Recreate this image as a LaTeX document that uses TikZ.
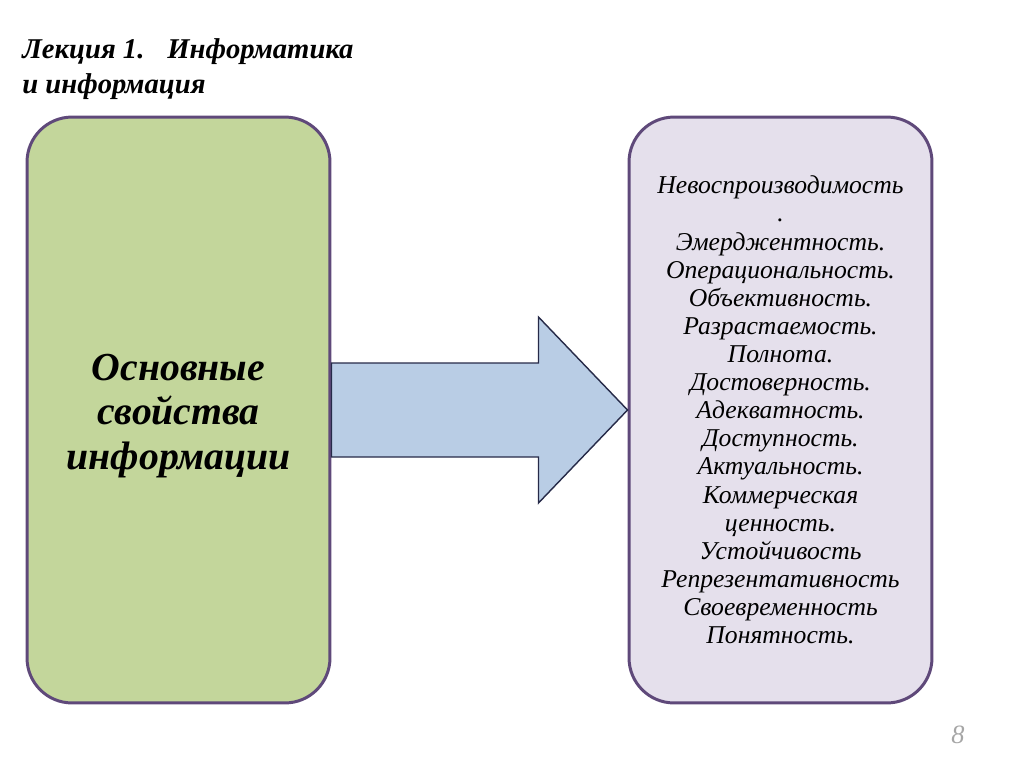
\documentclass[tikz,border=0pt]{standalone}
\usepackage{fontspec}
\setmainfont{Liberation Serif}
\usepackage{xcolor}
\usepackage{tikz}
\usetikzlibrary{calc}
\tikzset{every picture/.append style={font=\itshape}}
\definecolor{figgreen}{HTML}{C3D69B}
\definecolor{figlilac}{HTML}{E5E0EC}
\definecolor{figsky}{HTML}{B9CDE5}
\definecolor{figplum}{HTML}{5F497A}
\definecolor{figink}{HTML}{262A48}
\definecolor{figgrey}{HTML}{A6A6A6}
\tikzset{
  propbox/.style={draw=figplum,line width=1.7pt,rounded corners=0.9cm,
    minimum width=6.06cm,minimum height=11.72cm,inner sep=0pt},
  boxtext/.style={align=center,inner sep=0pt},
}

\begin{document}
\begin{tikzpicture}[x=0.02cm,y=-0.02cm]
    \useasboundingbox (0,0) rectangle (1024,768);
    % heading
    \node[anchor=north west,inner sep=0pt,align=left,
      font=\bfseries\itshape\fontsize{16.3}{19.8}\selectfont] (title) at (22,38)
      {Лекция 1.\hspace{0.8em}Информатика\\и информация};
    % the two boxes
    \node[propbox,fill=figgreen] (basics) at (178.5,410) {};
    \node[propbox,fill=figlilac] (props) at (780.5,410) {};
    \node[boxtext,font=\bfseries\itshape\fontsize{22.6}{25.5}\selectfont]
      (basicstext) at ($(basics.center)+(0,6)$) {Основные\\свойства\\информации};
    \node[boxtext,font=\itshape\fontsize{14.6}{16}\selectfont]
      (propstext) at (props.center) {Невоспроизводимость\\.\\Эмерджентность.\\
      Операциональность.\\Объективность.\\Разрастаемость.\\Полнота.\\
      Достоверность.\\Адекватность.\\Доступность.\\Актуальность.\\
      Коммерческая\\ценность.\\Устойчивость\\Репрезентативность\\
      Своевременность\\Понятность.};
    % block arrow
    \draw[fill=figsky,draw=figink,line width=0.8pt,line join=miter]
      ($(basics.east)+(0,-47)$) -- ++(207,0) -- ++(0,-46) -- (props.west)
      -- ($(basics.east)+(207,93)$) -- ++(0,-46) -- ($(basics.east)+(0,47)$) -- cycle;
    % page number
    \node[text=figgrey,font=\itshape\fontsize{15}{17}\selectfont] (page) at (958,735) {8};
  \end{tikzpicture}
\end{document}
